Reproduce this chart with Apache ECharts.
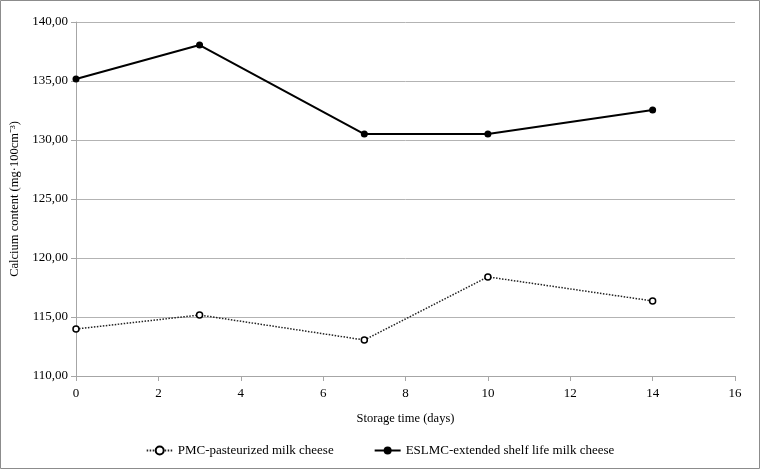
<!DOCTYPE html>
<html>
<head>
<meta charset="utf-8">
<script src="https://cdn.jsdelivr.net/npm/echarts@6/dist/echarts.min.js"></script>
<style>
html,body{margin:0;padding:0;background:#fff;}
#c{width:760px;height:469px;}
</style>
</head>
<body>
<div id="c"></div>
<script>
const days = [0, 3, 7, 10, 14];
const pmcValues = [113.98, 115.17, 113.05, 118.40, 116.36];
const eslmcValues = [135.17, 138.05, 130.50, 130.50, 132.55];
const seriesNames = ['PMC-pasteurized milk cheese', 'ESLMC-extended shelf life milk cheese'];
const xTicks = [0, 2, 4, 6, 8, 10, 12, 14, 16];
const yTicks = [110, 115, 120, 125, 130, 135, 140];

const font = 'Liberation Serif, Times New Roman, serif';
const chart = echarts.init(document.getElementById('c'), null, {renderer: 'canvas'});
const pair = (xs, ys) => xs.map((x, i) => [x, ys[i]]);

chart.setOption({
  animation: false,
  backgroundColor: '#fff',
  textStyle: {fontFamily: font},
  grid: {left: 76, right: 25, top: 22, bottom: 93},
  graphic: [{
    type: 'rect',
    shape: {x: 0.5, y: 0.5, width: 759, height: 468},
    style: {fill: 'none', stroke: '#8c8c8c', lineWidth: 1},
    silent: true
  }],
  legend: {
    bottom: 7,
    left: 'center',
    itemWidth: 26,
    itemHeight: 10,
    itemGap: 40,
    textStyle: {fontFamily: font, fontSize: 13, color: '#000'},
    data: seriesNames
  },
  xAxis: {
    type: 'value',
    min: xTicks[0],
    max: xTicks[xTicks.length - 1],
    interval: 2,
    name: 'Storage time (days)',
    nameLocation: 'middle',
    nameGap: 36,
    nameTextStyle: {fontFamily: font, fontSize: 12.5, color: '#000'},
    axisLine: {show: true, lineStyle: {color: '#a6a6a6', width: 1}},
    axisTick: {show: true, inside: false, length: 5, lineStyle: {color: '#a6a6a6'}},
    axisLabel: {fontFamily: font, fontSize: 13, color: '#000', margin: 11},
    splitLine: {show: false}
  },
  yAxis: {
    type: 'value',
    min: yTicks[0],
    max: yTicks[yTicks.length - 1],
    interval: 5,
    name: 'Calcium content (mg·100cm⁻³)',
    nameLocation: 'middle',
    nameGap: 49,
    nameRotate: 90,
    nameTextStyle: {fontFamily: font, fontSize: 12.5, color: '#000'},
    axisLine: {show: true, lineStyle: {color: '#a6a6a6', width: 1}},
    axisTick: {show: true, inside: false, length: 5, lineStyle: {color: '#a6a6a6'}},
    axisLabel: {
      fontFamily: font, fontSize: 13, color: '#000', margin: 8,
      formatter: v => v.toFixed(2).replace('.', ',')
    },
    splitLine: {show: true, lineStyle: {color: '#b3b3b3', width: 1}}
  },
  series: [
    {
      name: seriesNames[0],
      type: 'line',
      data: pair(days, pmcValues),
      symbol: 'circle',
      symbolSize: 6,
      showAllSymbol: true,
      lineStyle: {color: '#222', width: 1.5, type: [1.5, 1.5]},
      itemStyle: {color: '#fff', borderColor: '#000', borderWidth: 1.5},
      z: 3
    },
    {
      name: seriesNames[1],
      type: 'line',
      data: pair(days, eslmcValues),
      symbol: 'circle',
      symbolSize: 7,
      showAllSymbol: true,
      lineStyle: {color: '#000', width: 2},
      itemStyle: {color: '#000', borderColor: '#000', borderWidth: 0},
      z: 3
    }
  ]
});
</script>
</body>
</html>
